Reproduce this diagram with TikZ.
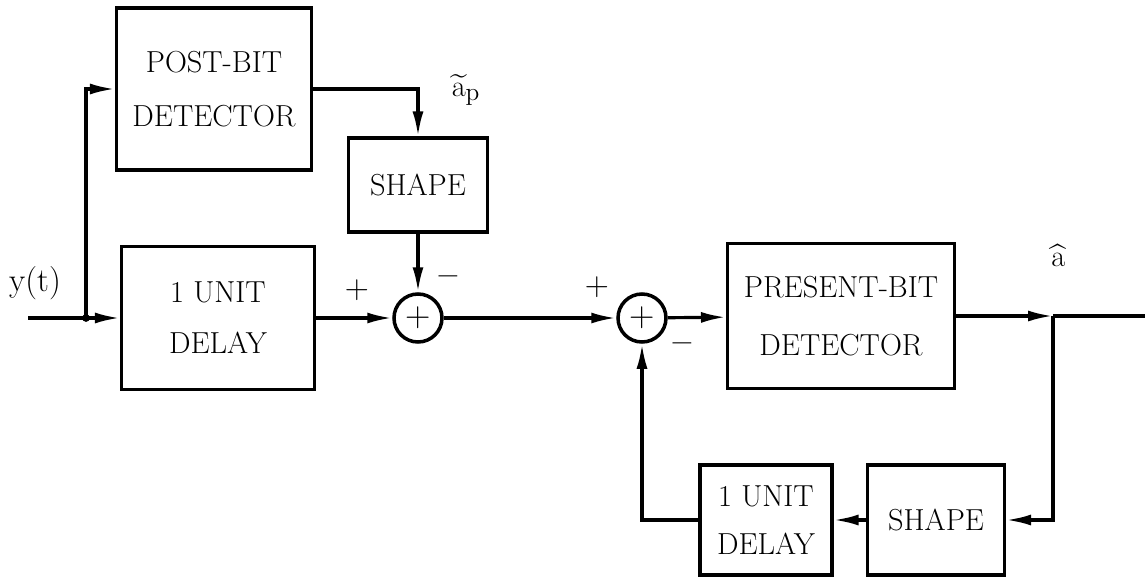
\documentclass[tikz,border=0pt]{standalone}
\usepackage{amsmath}
\usepackage{tikz}
\usetikzlibrary{arrows.meta,positioning}
\tikzset{
  blk node/.style={draw, line width=1.8pt, align=center, inner sep=0pt, font=\fontsize{17.3}{31}\selectfont},
  sum node/.style={draw, circle, line width=2pt, minimum size=0.96cm, inner sep=0pt, font=\fontsize{20}{20}\selectfont},
  sig edge/.style={-{Latex[length=5mm, width=2.2mm]}, line width=1.8pt},
  sig line/.style={line width=1.8pt},
  sig label/.style={font=\fontsize{19}{19}\selectfont, inner sep=1pt},
}

\begin{document}
\begin{tikzpicture}[x=0.02cm, y=-0.02cm]
  \useasboundingbox (0,0) rectangle (1145,578);
  % upper path: post-bit decision and its shaped estimate
  \node[blk node, minimum width=3.9cm, minimum height=3.24cm] (post) at (214,89) {POST-BIT\\DETECTOR};
  \node[blk node, minimum width=2.78cm, minimum height=1.88cm] (shapeA) at (418,185) {SHAPE};
  \node[blk node, minimum width=3.86cm, minimum height=2.86cm, font=\fontsize{17.3}{29}\selectfont] (delayA) at (218,318) {1 UNIT\\DELAY};
  \node[sum node] (sum1) at (418,318) {+};
  % lower path: present-bit decision with feedback
  \node[sum node] (sum2) at (642,318) {+};
  \node[blk node, minimum width=4.54cm, minimum height=2.9cm, font=\fontsize{17.3}{33}\selectfont] (present) at (841,316) {PRESENT-BIT\\DETECTOR};
  \node[blk node, minimum width=2.74cm, minimum height=2.2cm] (shapeB) at (936,520) {SHAPE};
  \node[blk node, minimum width=2.64cm, minimum height=2.2cm, font=\fontsize{17.3}{27}\selectfont] (delayB) at (766,520) {1 UNIT\\DELAY};
  \coordinate (in) at (28,318); \coordinate (j1) at (86,318); \coordinate (j2) at (1053,316); \coordinate (out) at (1145,316);
  % labels
  \node[sig label] (ylab) at (35,283) {y(t)};
  \node[sig label] (aplab) at (466,90) {$\widetilde{\mathrm{a}}_{\mathrm{p}}$};
  \node[sig label] (ahatlab) at (1058,256) {$\widehat{\mathrm{a}}$};
  \node[sig label] (p1) at (357,290) {+}; \node[sig label] (m1) at (448,281) {\textbf{--}};
  \node[sig label] (p2) at (597,287) {+}; \node[sig label] (m2) at (682,348) {\textbf{--}};
  % connectors
  \draw[sig line] (in) -- (j1); \fill (j1) circle (2.2pt);
  \draw[sig edge] (j1) -- (delayA); \draw[sig edge] (j1) |- (post.west);
  \draw[sig edge] (post.east) -| (shapeA.north); \draw[sig edge] (shapeA) -- (sum1);
  \draw[sig edge] (delayA) -- (sum1); \draw[sig edge] (sum1) -- (sum2); \draw[sig edge] (sum2) -- (present);
  \draw[sig edge] (present.east) -- (j2); \draw[sig line] (j2) -- (out);
  \draw[sig edge] (j2) |- (shapeB.east); \draw[sig edge] (shapeB) -- (delayB); \draw[sig edge] (delayB.west) -| (sum2.south);
\end{tikzpicture}
\end{document}
